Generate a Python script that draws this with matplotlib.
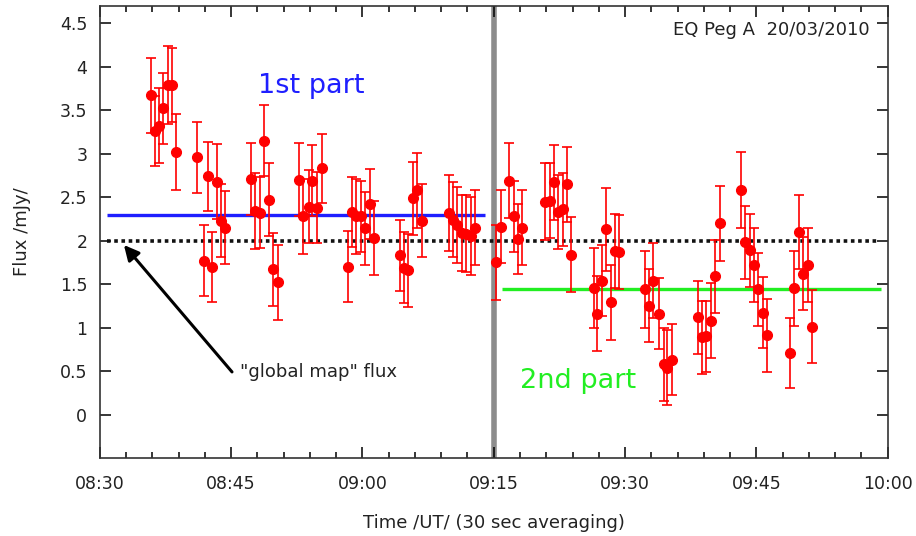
import matplotlib
matplotlib.use("Agg")
from matplotlib import pyplot as plt
from matplotlib.ticker import MultipleLocator

# time in minutes after 08:30 UT, flux in mJy, 1-sigma errors
t1 = [5.8, 6.3, 6.8, 7.25, 7.75, 8.3, 8.75, 11.15, 11.85, 12.35, 12.85, 13.35, 13.8, 14.3,
      17.3, 17.75, 18.25, 18.75, 19.3, 19.75, 20.3, 22.8, 23.25, 23.85, 24.25, 24.85, 25.35,
      28.35, 28.8, 29.3, 29.8, 30.35, 30.85, 31.35, 34.25, 34.75, 35.25, 35.75, 36.2, 36.8,
      39.85, 40.3, 40.8, 41.35, 41.85, 42.35, 42.9]
f1 = [3.67, 3.26, 3.32, 3.52, 3.79, 3.79, 3.02, 2.96, 1.77, 2.74, 1.70, 2.68, 2.23, 2.15,
      2.71, 2.34, 2.32, 3.15, 2.47, 1.67, 1.52, 2.70, 2.28, 2.39, 2.69, 2.38, 2.83,
      1.70, 2.33, 2.28, 2.28, 2.14, 2.42, 2.03, 1.83, 1.69, 1.66, 2.49, 2.58, 2.23,
      2.32, 2.24, 2.18, 2.09, 2.08, 2.05, 2.15]
e1 = [0.43, 0.40, 0.43, 0.41, 0.45, 0.42, 0.44, 0.41, 0.41, 0.40, 0.40, 0.43, 0.42, 0.42,
      0.41, 0.44, 0.41, 0.41, 0.42, 0.42, 0.43, 0.42, 0.43, 0.42, 0.41, 0.41, 0.40,
      0.41, 0.40, 0.43, 0.41, 0.42, 0.40, 0.43, 0.41, 0.41, 0.42, 0.42, 0.43, 0.42,
      0.44, 0.43, 0.44, 0.44, 0.44, 0.45, 0.43]

t2 = [45.3, 45.85, 46.8, 47.3, 47.75, 48.25, 50.9, 51.4, 51.9, 52.4, 52.9, 53.35, 53.85,
      56.4, 56.85, 57.35, 57.8, 58.35, 58.8, 59.3, 62.3, 62.75, 63.25, 63.9, 64.4, 64.85, 65.35,
      68.35, 68.8, 69.3, 69.8, 70.3, 70.8, 73.3, 73.75, 74.25, 74.75, 75.25, 75.8, 76.25,
      78.9, 79.35, 79.85, 80.35, 80.9, 81.35]
f2 = [1.75, 2.16, 2.69, 2.28, 2.02, 2.15, 2.45, 2.46, 2.67, 2.33, 2.36, 2.65, 1.84,
      1.45, 1.16, 1.54, 2.13, 1.29, 1.88, 1.87, 1.44, 1.25, 1.54, 1.16, 0.58, 0.54, 0.63,
      1.12, 0.89, 0.90, 1.08, 1.59, 2.20, 2.58, 1.98, 1.89, 1.72, 1.44, 1.17, 0.91,
      0.71, 1.45, 2.10, 1.62, 1.72, 1.01]
e2 = [0.43, 0.42, 0.43, 0.41, 0.40, 0.43, 0.44, 0.43, 0.43, 0.43, 0.42, 0.43, 0.43,
      0.46, 0.43, 0.41, 0.48, 0.43, 0.43, 0.43, 0.44, 0.42, 0.43, 0.41, 0.42, 0.43, 0.41,
      0.42, 0.42, 0.41, 0.43, 0.42, 0.43, 0.44, 0.42, 0.42, 0.42, 0.42, 0.41, 0.42,
      0.40, 0.43, 0.43, 0.42, 0.42, 0.42]

mean1, mean2, global_flux = 2.30, 1.44, 2.0
split_time = 45.0  # 09:15
tick_min = [0, 15, 30, 45, 60, 75, 90]
tick_labels = ["08:30", "08:45", "09:00", "09:15", "09:30", "09:45", "10:00"]

fig = plt.figure(figsize=(9.16, 5.36), dpi=100)
ax = fig.add_axes([0.109, 0.1455, 0.860, 0.8435])

ax.axvline(split_time, color="#8c8c8c", lw=4, zorder=1)
ax.hlines(global_flux, 0.85, 89.0, colors="#111111", lw=2.6, linestyles=(0, (1, 1)), zorder=2)
ax.hlines(mean1, 0.85, 44.05, colors="#1f1fff", lw=2.4, zorder=2)
ax.hlines(mean2, 46.0, 89.2, colors="#22ee22", lw=2.4, zorder=2)

for t, f, e in [(t1, f1, e1), (t2, f2, e2)]:
    ax.errorbar(t, f, yerr=e, fmt="o", color="red", ms=7, elinewidth=1.2,
                capsize=3.8, capthick=1.2, zorder=3)

ax.text(24.1, 3.78, "1st part", color="#1f1fff", fontsize=19.5, ha="center", va="center")
ax.text(54.6, 0.39, "2nd part", color="#22ee22", fontsize=19.5, ha="center", va="center")

# arrow to the global map level
ax.annotate("", xy=(2.75, 1.95), xytext=(15.1, 0.49),
            arrowprops=dict(arrowstyle="-|>,head_length=0.9,head_width=0.45",
                            color="black", lw=2.2, shrinkA=0, shrinkB=0))
ax.text(16.0, 0.49, '"global map" flux', fontsize=13, color="#222222", va="center", ha="left")
ax.text(0.977, 0.947, "EQ Peg A  20/03/2010", transform=ax.transAxes,
        fontsize=13, color="#222222", ha="right", va="center")

ax.set_xlim(0, 90)
ax.set_ylim(-0.5, 4.7)
ax.set_xticks(tick_min)
ax.set_xticklabels(tick_labels)
ax.xaxis.set_minor_locator(MultipleLocator(3))
ax.set_yticks([0, 0.5, 1, 1.5, 2, 2.5, 3, 3.5, 4, 4.5])
ax.set_yticklabels(["0", "0.5", "1", "1.5", "2", "2.5", "3", "3.5", "4", "4.5"])

ax.tick_params(which="both", direction="in", top=True, right=True, width=1.1,
               labelsize=12.5, labelcolor="#222222")
ax.tick_params(which="major", length=8)
ax.tick_params(which="minor", length=4)
ax.tick_params(axis="x", pad=12)
ax.tick_params(axis="y", pad=9)
for s in ax.spines.values():
    s.set_linewidth(1.2)
    s.set_color("#333333")

ax.set_xlabel("Time /UT/ (30 sec averaging)", fontsize=13, color="#222222", labelpad=15)
ax.set_ylabel("Flux /mJy/", fontsize=13, color="#222222", labelpad=21)

fig.savefig("out.png", dpi=100)
